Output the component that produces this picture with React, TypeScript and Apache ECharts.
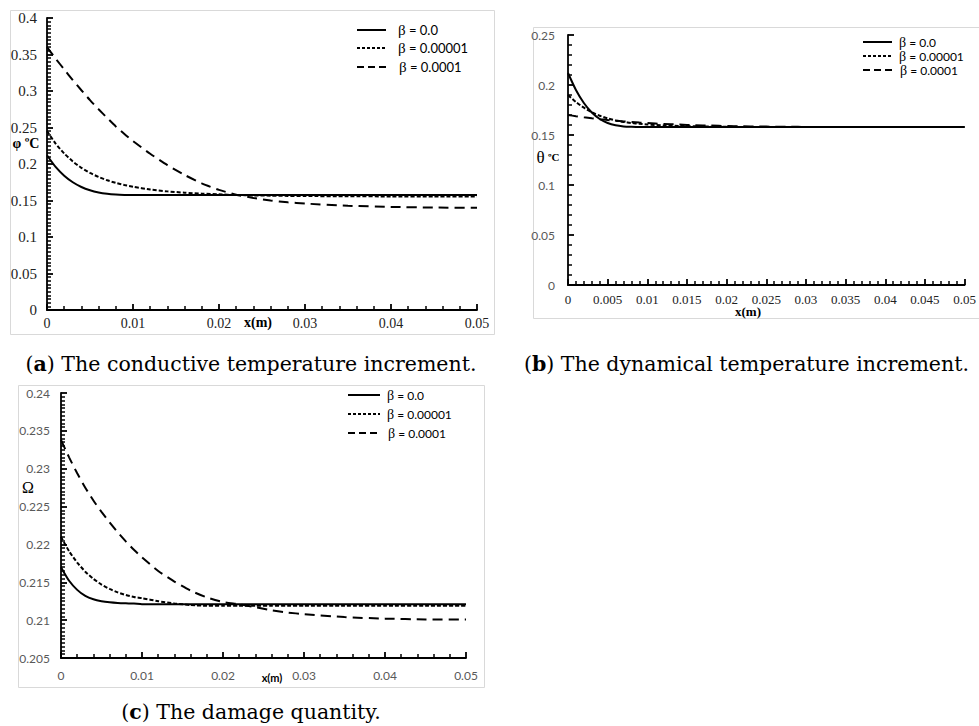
import React, { useEffect, useRef } from "react";
import * as echarts from "echarts";

// x positions (m)
const X = [0, 0.001, 0.002, 0.003, 0.004, 0.005, 0.006, 0.007, 0.008, 0.009, 0.01,
  0.012, 0.014, 0.016, 0.018, 0.02, 0.022, 0.024, 0.026, 0.028, 0.03, 0.035, 0.04, 0.045, 0.05];

// (a) conductive temperature increment φ
const phiBeta0 = [0.212, 0.196, 0.184, 0.175, 0.1685, 0.164, 0.161, 0.1592, 0.1582, 0.1577, 0.1575,
  0.1575, 0.1575, 0.1575, 0.1575, 0.1575, 0.1575, 0.1575, 0.1575, 0.1575, 0.1575, 0.1575, 0.1575, 0.1575, 0.1575];
const phiBeta1 = [0.245, 0.228, 0.2144, 0.2035, 0.1948, 0.1878, 0.1822, 0.1777, 0.1741, 0.1712, 0.1689,
  0.165, 0.1625, 0.1607, 0.1594, 0.1584, 0.1576, 0.157, 0.1566, 0.1563, 0.1561, 0.1558, 0.1556, 0.1555, 0.1555];
const phiBeta2 = [0.36, 0.3445, 0.3295, 0.315, 0.301, 0.2875, 0.275, 0.263, 0.2515, 0.241, 0.2315,
  0.214, 0.1985, 0.185, 0.1735, 0.1645, 0.158, 0.1535, 0.15, 0.1475, 0.1458, 0.1428, 0.1412, 0.1403, 0.14];

// (b) dynamical temperature increment θ
const thetaBeta0 = [0.212, 0.195, 0.182, 0.1725, 0.166, 0.162, 0.1597, 0.1586, 0.1582, 0.158, 0.158,
  0.158, 0.158, 0.158, 0.158, 0.158, 0.158, 0.158, 0.158, 0.158, 0.158, 0.158, 0.158, 0.158, 0.158];
const thetaBeta1 = [0.19, 0.183, 0.1773, 0.1728, 0.1693, 0.1666, 0.1646, 0.1631, 0.162, 0.1612, 0.1605,
  0.1596, 0.1591, 0.1587, 0.1584, 0.1582, 0.1581, 0.158, 0.158, 0.158, 0.158, 0.158, 0.158, 0.158, 0.158];
const thetaBeta2 = [0.17, 0.1688, 0.1677, 0.1667, 0.1658, 0.165, 0.1643, 0.1636, 0.163, 0.1624, 0.1619,
  0.1611, 0.1604, 0.1598, 0.1594, 0.159, 0.1587, 0.1585, 0.1583, 0.1582, 0.1581, 0.158, 0.158, 0.158, 0.158];

// (c) damage quantity Ω
const omegaBeta0 = [0.217, 0.2152, 0.214, 0.2132, 0.21275, 0.2125, 0.21235, 0.21226, 0.21222, 0.2122, 0.2121,
  0.2121, 0.2121, 0.2121, 0.2121, 0.2121, 0.2121, 0.2121, 0.2121, 0.2121, 0.2121, 0.2121, 0.2121, 0.2121, 0.2121];
const omegaBeta1 = [0.221, 0.2191, 0.2176, 0.2164, 0.21545, 0.2147, 0.21412, 0.21367, 0.21332, 0.21306, 0.2129,
  0.2125, 0.2122, 0.212, 0.2119, 0.2119, 0.2119, 0.2119, 0.2119, 0.2119, 0.2119, 0.2119, 0.2119, 0.2119, 0.2119];
const omegaBeta2 = [0.2338, 0.2315, 0.2294, 0.2275, 0.2258, 0.2243, 0.2229, 0.2216, 0.2204, 0.2193, 0.2183,
  0.2165, 0.2151, 0.2139, 0.213, 0.2124, 0.2121, 0.2117, 0.2113, 0.211, 0.2108, 0.2104, 0.2102, 0.2101, 0.2101];

const betaLabels = ["0.0", "0.00001", "0.0001"];
const dashes: (number[] | "solid")[] = ["solid", [4, 2], [10, 6]];

const SERIF = "'Liberation Serif', 'Times New Roman', serif";
const SANS = "Lato, 'Open Sans', sans-serif";
const CAP = "'DejaVu Serif', serif";

function pairs(ys: number[]) {
  return X.map((x, i) => [x, ys[i]]);
}

function axisCommon(minorSplit: number) {
  return {
    axisLine: { show: true, onZero: false, lineStyle: { color: "#000", width: 1.8 } },
    axisTick: { show: true, inside: true, length: 6, lineStyle: { color: "#000", width: 1.8 } },
    minorTick: { show: true, splitNumber: minorSplit, length: 4, lineStyle: { color: "#000", width: 1.5 } },
    splitLine: { show: false },
    minorSplitLine: { show: false },
  };
}

function legendGraphics(x1: number, x2: number, tx: number, rows: number[], fontSize: number) {
  const out: any[] = [];
  rows.forEach((y, i) => {
    out.push({
      type: "line",
      shape: { x1, y1: y, x2, y2: y },
      style: { stroke: "#000", lineWidth: 2, lineDash: dashes[i] === "solid" ? null : (i === 1 ? [3, 2] : [7, 4]) },
    });
    out.push({
      type: "text",
      x: tx + (i === 2 ? 1 : 0),
      y,
      style: {
        text: "{g|β} = " + betaLabels[i],
        fontFamily: SANS,
        fontSize,
        fill: "#000",
        align: "left",
        verticalAlign: "middle",
        rich: { g: { fontFamily: SERIF, fontSize: fontSize + 2, fill: "#000" } },
      },
    });
  });
  return out;
}

export default function App() {
  const ref = useRef<HTMLDivElement>(null);
  useEffect(() => {
    const chart = echarts.init(ref.current!, null, { renderer: "svg", width: 979, height: 726 });
    const series: any[] = [];
    const sets = [
      [phiBeta0, phiBeta1, phiBeta2],
      [thetaBeta0, thetaBeta1, thetaBeta2],
      [omegaBeta0, omegaBeta1, omegaBeta2],
    ];
    sets.forEach((set, g) => {
      set.forEach((ys, i) => {
        series.push({
          type: "line",
          name: "β = " + betaLabels[i],
          xAxisIndex: g,
          yAxisIndex: g,
          data: pairs(ys),
          symbol: "none",
          showSymbol: false,
          smooth: 0.2,
          silent: true,
          z: 3 - i,
          lineStyle: { color: "#000", width: 2, type: dashes[i] },
        });
      });
    });

    const option: any = {
      animation: false,
      backgroundColor: "#fff",
      grid: [
        { left: 47, top: 18, width: 430, height: 292 },
        { left: 568, top: 35, width: 407, height: 250 },
        { left: 61, top: 393, width: 405, height: 265 },
      ],
      xAxis: [
        {
          type: "value", gridIndex: 0, min: 0, max: 0.05, interval: 0.01, ...axisCommon(5),
          axisLabel: { fontFamily: SERIF, fontSize: 14, color: "#222", margin: 6, showMaxLabel: true },
        },
        {
          type: "value", gridIndex: 1, min: 0, max: 0.05, interval: 0.005, ...axisCommon(5),
          axisLabel: { fontFamily: SERIF, fontSize: 13, color: "#222", margin: 8 },
        },
        {
          type: "value", gridIndex: 2, min: 0, max: 0.05, interval: 0.01, ...axisCommon(5),
          axisLabel: { fontFamily: SANS, fontSize: 12, color: "#595959", margin: 11 },
        },
      ],
      yAxis: [
        {
          type: "value", gridIndex: 0, min: 0, max: 0.4, interval: 0.05, ...axisCommon(10),
          axisLabel: { fontFamily: SERIF, fontSize: 15, color: "#222", margin: 10 },
        },
        {
          type: "value", gridIndex: 1, min: 0, max: 0.25, interval: 0.05, ...axisCommon(5),
          axisLabel: { fontFamily: SANS, fontSize: 12, color: "#595959", margin: 13 },
        },
        {
          type: "value", gridIndex: 2, min: 0.205, max: 0.24, interval: 0.005, ...axisCommon(10),
          axisLabel: { fontFamily: SANS, fontSize: 12, color: "#595959", margin: 11 },
        },
      ],
      series,
      graphic: [
        // panel borders
        { type: "rect", shape: { x: 10.5, y: 10.5, width: 484, height: 324 }, style: { fill: "none", stroke: "#d9d9d9", lineWidth: 1 }, z: -1 },
        { type: "rect", shape: { x: 533.5, y: 27.5, width: 480, height: 291 }, style: { fill: "none", stroke: "#d9d9d9", lineWidth: 1 }, z: -1 },
        { type: "rect", shape: { x: 18.5, y: 385.5, width: 466, height: 302 }, style: { fill: "none", stroke: "#d9d9d9", lineWidth: 1 }, z: -1 },
        // axis names
        { type: "text", x: 26, y: 143, style: { text: "φ ºC", fontFamily: SERIF, fontWeight: "bold", fontSize: 14, fill: "#000", align: "center", verticalAlign: "middle" } },
        { type: "text", x: 258, y: 322, style: { text: "x(m)", fontFamily: SERIF, fontWeight: "bold", fontSize: 14, fill: "#000", align: "center", verticalAlign: "middle" } },
        {
          type: "text", x: 548, y: 157,
          style: {
            text: "{t|θ} {c|ºC}", align: "center", verticalAlign: "middle",
            rich: { t: { fontFamily: SERIF, fontSize: 17, fill: "#000" }, c: { fontFamily: SERIF, fontWeight: "bold", fontSize: 11, fill: "#000" } },
          },
        },
        { type: "text", x: 748, y: 311, style: { text: "x(m)", fontFamily: SERIF, fontWeight: "bold", fontSize: 13, fill: "#000", align: "center", verticalAlign: "middle" } },
        { type: "text", x: 28, y: 487, style: { text: "Ω", fontFamily: SERIF, fontSize: 16, fill: "#000", align: "center", verticalAlign: "middle" } },
        { type: "text", x: 272, y: 677, style: { text: "x(m)", fontFamily: SANS, fontWeight: "bold", fontSize: 11, fill: "#000", align: "center", verticalAlign: "middle" } },
        // legends
        ...legendGraphics(357, 386, 398, [30, 48, 67], 13),
        ...legendGraphics(863, 892, 899, [42, 56, 70], 12),
        ...legendGraphics(348, 380, 387, [395, 414, 433], 12),
        // captions
        {
          type: "text", x: 251, y: 364,
          style: { text: "({b|a}) The conductive temperature increment.", fontFamily: CAP, fontSize: 20.5, fill: "#000", align: "center", verticalAlign: "middle", rich: { b: { fontFamily: CAP, fontSize: 20.5, fontWeight: "bold", fill: "#000" } } },
        },
        {
          type: "text", x: 524, y: 364,
          style: { text: "({b|b}) The dynamical temperature increment.", fontFamily: CAP, fontSize: 20.5, fill: "#000", align: "left", verticalAlign: "middle", rich: { b: { fontFamily: CAP, fontSize: 20.5, fontWeight: "bold", fill: "#000" } } },
        },
        {
          type: "text", x: 251, y: 712,
          style: { text: "({b|c}) The damage quantity.", fontFamily: CAP, fontSize: 20.5, fill: "#000", align: "center", verticalAlign: "middle", rich: { b: { fontFamily: CAP, fontSize: 20.5, fontWeight: "bold", fill: "#000" } } },
        },
      ],
    };
    chart.setOption(option);
    return () => chart.dispose();
  }, []);
  return <div ref={ref} style={{ position: "absolute", left: 0, top: 0, width: 979, height: 726, background: "#fff" }} />;
}
